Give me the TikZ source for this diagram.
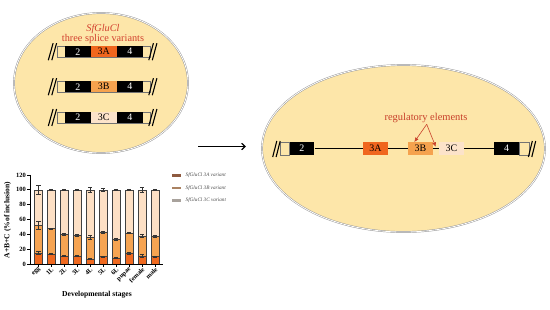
\documentclass[tikz,border=0pt]{standalone}
\usepackage{fontspec}
\setmainfont{Liberation Serif}
\usetikzlibrary{arrows.meta,shapes.geometric,calc}
\definecolor{ellfill}{HTML}{FDE6A9}
\definecolor{exA}{HTML}{F0661E}
\definecolor{exB}{HTML}{F5A24E}
\definecolor{exC}{HTML}{FCE3CA}
\definecolor{chA}{HTML}{F06A20}
\definecolor{chB}{HTML}{F6A452}
\definecolor{chC}{HTML}{FDE0C5}
\definecolor{titred}{HTML}{D2402E}
\definecolor{regred}{HTML}{C8402A}
\definecolor{legA}{HTML}{8E5A40}
\definecolor{legB}{HTML}{AA8262}
\definecolor{legC}{HTML}{A8A29C}
\begin{document}
\begin{tikzpicture}[x=1bp,y=-1bp,
  bigell/.style={ellipse, draw=gray!85, double=white, double distance=0.8bp,
    line width=0.45bp, fill=ellfill, inner sep=0pt},
  exon/.style={rectangle, inner sep=0pt, minimum width=25.6bp,
    minimum height=11.5bp, font=\fontsize{10}{10}\selectfont},
  exonR/.style={exon, minimum width=25bp, minimum height=12.5bp},
  blackex/.style={fill=black, text=white},
  thinline/.style={draw=black!55, line width=0.4bp},
  slashline/.style={line width=1.1bp, black},
  geneline/.style={line width=0.9bp, black},
  regarrow/.style={regred, line width=0.6bp, -{Latex[length=4.5bp,width=4bp]}},
  mainarrow/.style={line width=1.2bp, black, -{Straight Barb[length=3.5bp,width=6.5bp]}},
  baredge/.style={draw=black!75, line width=0.45bp},
  errbar/.style={draw=black!80, line width=0.5bp},
  ticklab/.style={font=\bfseries\fontsize{6.5}{6.5}\selectfont, inner sep=0.6bp},
  axlab/.style={font=\bfseries\fontsize{7.6}{8}\selectfont},
  legtext/.style={font=\itshape\fontsize{5.2}{5.2}\selectfont, text=black!70, anchor=west, inner sep=0pt}
]
\useasboundingbox (0,0) rectangle (550,309);

% ---------- left ellipse ----------
\node[bigell, minimum width=174bp, minimum height=140bp] (L) at (101,83) {};
\node[font=\itshape\fontsize{10.3}{11}\selectfont, text=titred] (ttl) at (103,29) {SfGluCl};
\node[font=\fontsize{10.3}{11}\selectfont, text=titred] (sub) at (103,39) {three splice variants};

\foreach \yy/\cc/\lab/\id in {51.7/exA/3A/a, 86.7/exB/3B/b, 117.5/exC/3C/c} {
  \draw[thinline] (56.7,\yy-5.75) rectangle (150,\yy+5.75);
  \node[exon, blackex] (two\id) at (77.8,\yy) {2};
  \node[exon, fill=\cc, anchor=west] (three\id) at (two\id.east) {\lab};
  \node[exon, blackex, anchor=west] (four\id) at (three\id.east) {4};
  \draw[slashline] (48.3,\yy+8.5) -- (53.1,\yy-8.5);
  \draw[slashline] (51.8,\yy+8.5) -- (56.6,\yy-8.5);
  \draw[slashline] (148.8,\yy+8.5) -- (153.4,\yy-8.5);
  \draw[slashline] (152.3,\yy+8.5) -- (156.9,\yy-8.5);
}

% ---------- arrow ----------
\coordinate (a1) at (198,146.5);
\coordinate (a2) at (246,146.5);
\draw[mainarrow] (a1) -- (a2);

% ---------- right ellipse ----------
\node[bigell, minimum width=283bp, minimum height=167bp] (R) at (403.5,148.5) {};
\node[exonR, blackex] (r2) at (301.8,148.5) {2};
\node[exonR, fill=exA] (r3a) at (375.5,148.5) {3A};
\node[exonR, fill=exB] (r3b) at (420.5,148.5) {3B};
\node[exonR, fill=exC] (r3c) at (451.5,148.5) {3C};
\node[exonR, blackex] (r4) at (506.5,148.5) {4};
\draw[geneline] (r2.east) -- (r3a.west);
\draw[geneline] (r3a.east) -- (r3b.west);
\draw[geneline] (r3b.east) -- (r3c.west);
\draw[geneline] (r3c.east) -- (r4.west);
\draw[thinline] (280.5,142.25) rectangle (r2.south west);
\draw[thinline] (r4.north east) rectangle (528.8,154.75);
\draw[slashline] (272.7,157) -- (276.8,141);
\draw[slashline] (276.1,157) -- (280.2,141);
\draw[slashline] (528.4,157) -- (532.3,141);
\draw[slashline] (531.8,157) -- (535.7,141);

\node[font=\fontsize{10.5}{11}\selectfont, text=regred] (reg) at (426,118) {regulatory elements};
\coordinate (apex) at (426.7,124.3);
\coordinate (tipL) at ($(r3b.north west)+(6.5,0)$);
\coordinate (tipR) at ($(r3b.east)+(2.6,-1.6)$);
\draw[regarrow] (apex) -- (tipL);
\draw[regarrow] (apex) -- (tipR);

% ---------- bar chart ----------
\begin{scope}[shift={(30,264)}, x=1bp, y=0.742bp]
  \foreach \i/\lab/\A/\eA/\AB/\eAB/\eT in {
      0/egg/15/2/52/5/6.5,
      1/1L/13.5/0.9/48/0.8/1,
      2/2L/11/1/40/1.5/1,
      3/3L/11/1/39/1/1,
      4/4L/7/0.8/36/2.5/3,
      5/5L/10/1/43/1/2,
      6/6L/8/0.8/33.5/1.5/1,
      7/pupae/14.5/1/42/1/1,
      8/female/11/2/38/1.5/3,
      9/male/10/1/37.5/1.5/1} {
    \pgfmathsetmacro{\cx}{8.3+12.97*\i}
    \pgfmathsetmacro{\bl}{\cx-4.25}
    \pgfmathsetmacro{\br}{\cx+4.25}
    \fill[chA] (\bl,0) rectangle (\br,\A);
    \fill[chB] (\bl,\A) rectangle (\br,\AB);
    \fill[chC] (\bl,\AB) rectangle (\br,100);
    \draw[baredge] (\bl,0) rectangle (\br,100);
    \draw[baredge] (\bl,\A) -- (\br,\A);
    \draw[baredge] (\bl,\AB) -- (\br,\AB);
    \draw[errbar] (\cx,\A-\eA) -- (\cx,\A+\eA)
      (\cx-2.2,\A-\eA) -- (\cx+2.2,\A-\eA) (\cx-2.2,\A+\eA) -- (\cx+2.2,\A+\eA);
    \draw[errbar] (\cx,\AB-\eAB) -- (\cx,\AB+\eAB)
      (\cx-2.2,\AB-\eAB) -- (\cx+2.2,\AB-\eAB) (\cx-2.2,\AB+\eAB) -- (\cx+2.2,\AB+\eAB);
    \draw[errbar] (\cx,100-\eT) -- (\cx,100+\eT)
      (\cx-2.2,100-\eT) -- (\cx+2.2,100-\eT) (\cx-2.2,100+\eT) -- (\cx+2.2,100+\eT);
    \draw[line width=0.6bp] (\cx,0) -- (\cx,-3.4);
    \node[ticklab, rotate=45, anchor=east] (xl\i) at (\cx+1.8,-5.5) {\lab};
  }
  \draw[line width=1bp] (0,120) -- (0,0) -- (133,0);
  \foreach \t in {0,20,...,120} {
    \draw[line width=0.8bp] (0,\t) -- (-3.2,\t);
    \node[ticklab, anchor=east] (yl\t) at (-3.4,\t) {\t};
  }
\end{scope}
\node[axlab, rotate=90] (ylab) at (7.5,220) {A+B+C (\%of inclusion)};
\node[axlab] (xlab) at (97,295) {Developmental stages};

% ---------- legend ----------
\foreach \yy/\cc/\lab in {175.5/legA/3A, 188/legB/3B, 200.5/legC/3C} {
  \fill[\cc] (172,\yy-1.2) rectangle (180.5,\yy+1.2);
  \node[legtext] at (185.5,\yy) {SfGluCl \lab\ variant};
}
\end{tikzpicture}
\end{document}
